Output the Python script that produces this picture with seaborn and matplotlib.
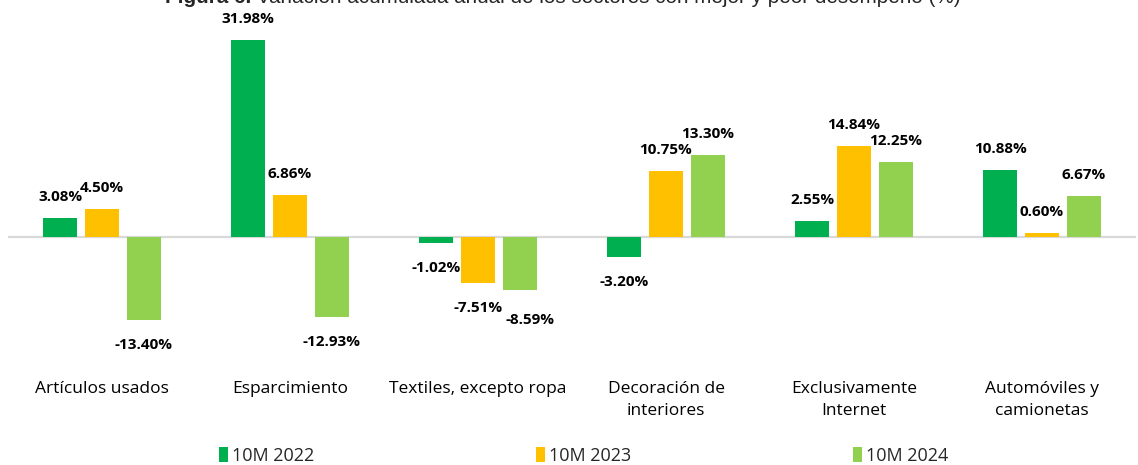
import matplotlib
matplotlib.use("Agg")
import matplotlib.pyplot as plt
import seaborn as sns
import pandas as pd
from matplotlib.patches import Patch

categories = ["Artículos usados", "Esparcimiento", "Textiles, excepto ropa",
              "Decoración de\ninteriores", "Exclusivamente\nInternet", "Automóviles y\ncamionetas"]
series_names = ["10M 2022", "10M 2023", "10M 2024"]
v2022 = [3.08, 31.98, -1.02, -3.20, 2.55, 10.88]
v2023 = [4.50, 6.86, -7.51, 10.75, 14.84, 0.60]
v2024 = [-13.40, -12.93, -8.59, 13.30, 12.25, 6.67]
colors = ["#00B050", "#FFC000", "#92D050"]
title_bold = "Figura 6."
title_rest = " Variación acumulada anual de los sectores con mejor y peor desempeño (%)"

rows = []
for name, vals in zip(series_names, [v2022, v2023, v2024]):
    for c, v in zip(categories, vals):
        rows.append({"cat": c, "serie": name, "val": v})
df = pd.DataFrame(rows)

sns.set_style("white")
plt.rcParams["font.family"] = ["Open Sans", "DejaVu Sans"]

fig = plt.figure(figsize=(11.38, 4.65), dpi=100)
ax = fig.add_axes([8 / 1138, 0.2783, 1128 / 1138, 0.6492])

sns.barplot(data=df, x="cat", y="val", hue="serie", order=categories,
            hue_order=series_names, palette=colors, saturation=1, width=0.67, gap=0.2,
            edgecolor="none", ax=ax, legend=False)

ax.set_ylim(-16, 33)
ax.set_xlim(-0.5, len(categories) - 0.5)
ax.axhline(0, color="#D9D9D9", lw=1.6, zorder=0.5)
for s in ax.spines.values():
    s.set_visible(False)
ax.set_yticks([])
ax.set_xlabel("")
ax.set_ylabel("")
ax.tick_params(axis="x", length=0, pad=33, labelsize=12.5, colors="#000000")
for lbl in ax.get_xticklabels():
    lbl.set_linespacing(1.5)
    lbl.set_verticalalignment("top")

neg_labels_by_cat = {}
for cont, vals in zip(ax.containers, [v2022, v2023, v2024]):
    for i, (bar, v) in enumerate(zip(cont, vals)):
        x = bar.get_x() + bar.get_width() / 2
        off = 15 if v >= 0 else -18
        t = ax.annotate(f"{v:.2f}%", xy=(x, v), xytext=(0, off), textcoords="offset points",
                        ha="center", va="center", fontsize=11, fontweight="bold", color="#000000")
        if v < 0:
            neg_labels_by_cat.setdefault(i, []).append(t)

# simple collision avoidance for labels below bars: nudge right if overlapping
fig.canvas.draw()
renderer = fig.canvas.get_renderer()
for i, lst in neg_labels_by_cat.items():
    for a, b in zip(lst[:-1], lst[1:]):
        ba = a.get_window_extent(renderer)
        bb = b.get_window_extent(renderer)
        if ba.overlaps(bb):
            shift = (ba.x1 - bb.x0 + 3) * 72 / fig.dpi
            ox, oy = b.xyann
            b.xyann = (ox + shift, oy - 4)

t1 = fig.text(165 / 1138, 1 + 3 / 465, title_bold, ha="left", va="center",
              fontsize=14.9, fontweight="bold", family="Liberation Sans")
ax.annotate(title_rest, xy=(1, 0.5), xycoords=t1, ha="left", va="center", fontsize=14.9,
            family="Liberation Sans", annotation_clip=False)

handles = [Patch(facecolor=c, edgecolor="none") for c in colors]
fig.legend(handles, series_names, loc="center", bbox_to_anchor=(0.513, 9 / 465),
           ncol=3, frameon=False, fontsize=13, handlelength=0.5, handleheight=0.9,
           handletextpad=0.2, columnspacing=12.3)

fig.savefig("out.png", dpi=100)
